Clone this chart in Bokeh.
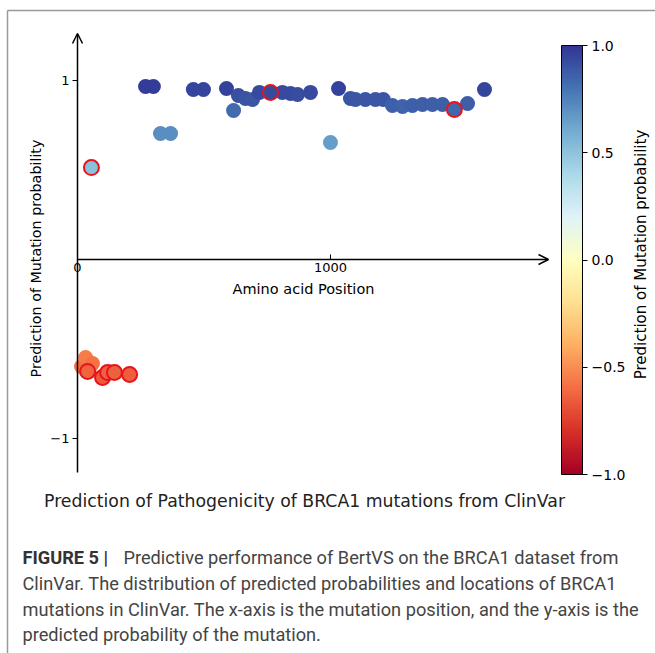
import numpy as np
from bokeh.plotting import figure
from bokeh.models import (ColumnDataSource, LinearColorMapper, ColorBar, FixedTicker,
                          Arrow, OpenHead, Label, Range1d)
from bokeh.transform import transform
from bokeh.embed import file_html
from bokeh.resources import INLINE

# ---------------- data ----------------
positions = [269, 300, 458, 498, 589, 636, 664, 692, 719, 810, 842, 870, 921,
             1032, 1079, 1099, 1138, 1178, 1209, 1245, 1285, 1324, 1364, 1403,
             1443, 1542, 1609, 617, 328, 368, 1000,
             16, 32, 47, 59,
             55, 763, 1490, 40, 99, 119, 146, 206]
probabilities = [0.969, 0.969, 0.952, 0.952, 0.958, 0.919, 0.902, 0.896, 0.936, 0.936,
                 0.930, 0.924, 0.936,
                 0.958, 0.902, 0.896, 0.896, 0.896, 0.896, 0.863, 0.857, 0.863, 0.868,
                 0.868, 0.868, 0.874, 0.952, 0.835, 0.706, 0.706, 0.655,
                 -0.600, -0.549, -0.610, -0.583,
                 0.515, 0.936, 0.840, -0.627, -0.661, -0.633, -0.633, -0.644]
red_outline = [0] * 35 + [1] * 8

y_ticks = [-1, 1]
x_ticks = [0, 1000]
cbar_ticks = [-1.0, -0.5, 0.0, 0.5, 1.0]

title_text = "Prediction of Pathogenicity of BRCA1 mutations from ClinVar"
caption_bold = "FIGURE 5 |"
caption_lines = [
    "Predictive performance of BertVS on the BRCA1 dataset from",
    "ClinVar. The distribution of predicted probabilities and locations of BRCA1",
    "mutations in ClinVar. The x-axis is the mutation position, and the y-axis is the",
    "predicted probability of the mutation.",
]

# ---------------- palette (RdYlBu) ----------------
base = ['#a50026', '#d73027', '#f46d43', '#fdae61', '#fee090', '#ffffbf',
        '#e0f3f8', '#abd9e9', '#74add1', '#4575b4', '#313695']
rgb = np.array([[int(c[i:i + 2], 16) for i in (1, 3, 5)] for c in base], float)
t = np.linspace(0, 1, 256)
tb = np.linspace(0, 1, len(base))
palette = ['#%02x%02x%02x' % tuple(int(round(np.interp(v, tb, rgb[:, k]))) for k in range(3))
           for v in t]
mapper = LinearColorMapper(palette=palette, low=-1, high=1)

# ---------------- geometry ----------------
W, H = 655, 653
ORIG_X_PX, ORIG_Y_PX = 77, 259          # pixel position of the data origin
PX_PER_X = 471 / 1862                    # pixels per amino-acid unit
PX_PER_Y = 439 / 2.459                   # pixels per probability unit
X_END = (548 - ORIG_X_PX) / PX_PER_X     # end of x arrow
Y_TOP = (ORIG_Y_PX - 33) / PX_PER_Y      # top of y arrow
Y_BOT = (ORIG_Y_PX - 472) / PX_PER_Y     # bottom of y axis

def dx(px):
    return (px - ORIG_X_PX) / PX_PER_X

def dy(py):
    return (ORIG_Y_PX - py) / PX_PER_Y

p = figure(width=W, height=H, x_range=Range1d(dx(0), dx(W)), y_range=Range1d(dy(H), dy(0)),
           output_backend="svg", toolbar_location=None, title=None,
           min_border_left=0, min_border_right=0, min_border_top=0, min_border_bottom=0)
p.outline_line_color = None
p.grid.visible = False
p.background_fill_color = "white"
p.border_fill_color = "white"

FONT = "DejaVu Sans"

# x axis at y = 0
xa = p.xaxis[0]
xa.fixed_location = 0
xa.ticker = FixedTicker(ticks=x_ticks)
xa.major_label_overrides = {0: "0", 1000: "1000"}
xa.axis_line_color = None
xa.major_tick_in = 5
xa.major_tick_out = 0
xa.minor_tick_line_color = None
xa.major_tick_line_color = "black"
xa.major_label_text_font = FONT
xa.major_label_text_font_size = "13px"
xa.major_label_text_color = "black"
xa.major_label_standoff = 3

# y axis at x = 0
ya = p.yaxis[0]
ya.fixed_location = 0
ya.ticker = FixedTicker(ticks=y_ticks)
ya.major_label_overrides = {-1: "\u22121", 1: "1"}
ya.axis_line_color = None
ya.major_tick_in = 0
ya.major_tick_out = 5
ya.minor_tick_line_color = None
ya.major_tick_line_color = "black"
ya.major_label_text_font = FONT
ya.major_label_text_font_size = "13px"
ya.major_label_text_color = "black"
ya.major_label_standoff = 3

# axis arrows
head_kw = dict(size=10, line_width=1.5, line_color="black")
p.add_layout(Arrow(end=OpenHead(**head_kw), x_start=0, y_start=Y_BOT, x_end=0, y_end=Y_TOP,
                   line_width=1.5, line_color="black"))
p.add_layout(Arrow(end=OpenHead(**head_kw), x_start=0, y_start=0, x_end=X_END, y_end=0,
                   line_width=1.5, line_color="black"))

# points
flag = np.array(red_outline)
pos = np.array(positions)
prob = np.array(probabilities)
src_plain = ColumnDataSource(dict(x=pos[flag == 0], y=prob[flag == 0]))
src_edge = ColumnDataSource(dict(x=pos[flag == 1], y=prob[flag == 1]))
p.scatter("x", "y", source=src_plain, size=15, fill_color=transform("y", mapper),
          line_color=None)
p.scatter("x", "y", source=src_edge, size=15, fill_color=transform("y", mapper),
          line_color="#e8141c", line_width=2)

# colorbar
cb = ColorBar(color_mapper=mapper, width=21, height=429, padding=0, location=(561, H - 474),
              ticker=FixedTicker(ticks=cbar_ticks),
              major_label_overrides={-1.0: "\u22121.0", -0.5: "\u22120.5", 0.0: "0.0",
                                     0.5: "0.5", 1.0: "1.0"},
              major_tick_in=0, major_tick_out=5, major_tick_line_color="black",
              bar_line_color="black", label_standoff=4,
              major_label_text_font=FONT, major_label_text_font_size="14px",
              major_label_text_color="black", background_fill_alpha=0,
              border_line_color=None)
p.add_layout(cb, "center")

def label(text, px, py, **kw):
    opts = dict(text_font=FONT, text_font_size="13px", text_color="black",
                text_align="center", text_baseline="middle")
    opts.update(kw)
    p.add_layout(Label(x=dx(px), y=dy(py), text=text, **opts))

label("Amino acid Position", 303, 288, text_font_size="14.5px")
label("Prediction of Mutation probability", 35, 258, angle=np.pi / 2, text_font_size="14.3px")
label("Prediction of Mutation probability", 640, 254, angle=np.pi / 2, text_font_size="15px")
label(title_text, 304, 500, text_font_size="17.3px", text_color="#222222")

# caption
cap_font = "Roboto"
cap_size = "18.2px"
label(caption_bold, 22, 557, text_font=cap_font, text_font_size=cap_size,
      text_font_style="bold", text_align="left", text_color="#333333")
label(caption_lines[0], 123, 557, text_font=cap_font, text_font_size=cap_size,
      text_align="left", text_color="#444444")
for i, line in enumerate(caption_lines[1:]):
    label(line, 22, 583 + 25.7 * i, text_font=cap_font, text_font_size=cap_size,
          text_align="left", text_color="#444444")

# figure frame (grey border lines on the left and top)
border_kw = dict(end=None, line_width=1.5, line_color="#9a9a9a")
p.add_layout(Arrow(x_start=dx(7), y_start=dy(10), x_end=dx(7), y_end=dy(H + 5), **border_kw))
p.add_layout(Arrow(x_start=dx(7), y_start=dy(10), x_end=dx(W + 5), y_end=dy(10), **border_kw))

open("out.html", "w").write(file_html(p, INLINE))
